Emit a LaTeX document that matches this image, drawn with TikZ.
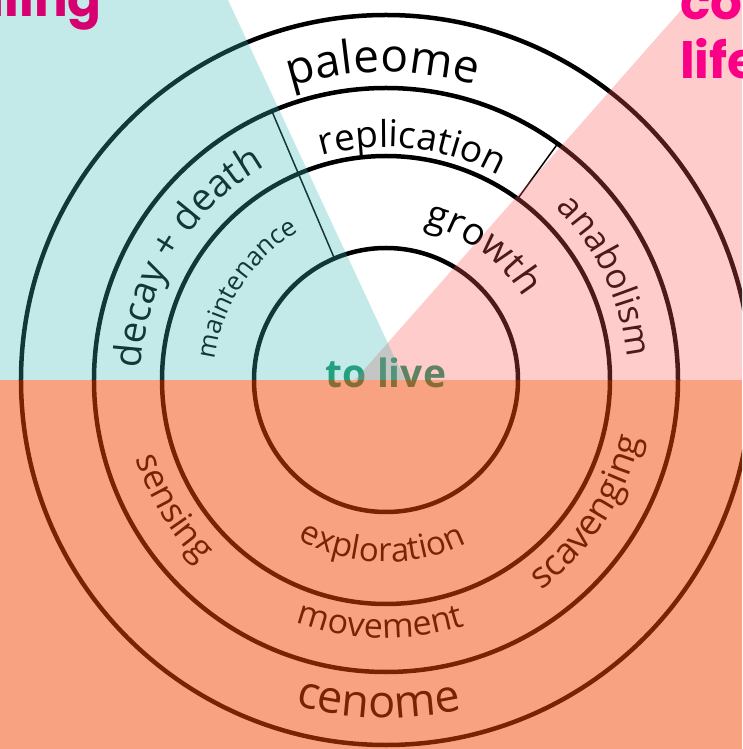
\documentclass[tikz,border=0pt]{standalone}
\usepackage{fontspec}
\setmainfont{Open Sans}
\newfontfamily\headfont{Poppins}
\usetikzlibrary{decorations.text}

\definecolor{tealwash}{RGB}{60,185,185}
\definecolor{pinkwash}{RGB}{255,88,88}
\definecolor{salmonwash}{RGB}{245,70,5}
\definecolor{livegreen}{RGB}{25,150,100}
\definecolor{headpink}{RGB}{214,0,112}
\definecolor{lifepink}{RGB}{250,0,135}

\tikzset{
    ring/.style={draw=black, line width=4.5pt},
    divider/.style={draw=black, line width=1.5pt},
    wash/.style={fill opacity=#1},
    ringtext/.style={decorate, decoration={text along path, text align=center, text={#1}}},
    headline/.style={font=\headfont\bfseries\fontsize{50}{50}\selectfont, inner sep=0pt}
}

\begin{document}
\begin{tikzpicture}[x=1pt, y=1pt]
    % Frame of the picture (centre of the rings at the origin)
    \useasboundingbox (-386,-369) rectangle (356,380);
    \clip (-386,-369) rectangle (356,380);
    \fill[white] (-386,-369) rectangle (356,380);

    % Radii of the four rings
    \def\rA{132pt}
    \def\rB{224pt}
    \def\rC{292pt}
    \def\rD{365pt}

    % Rings
    \draw[ring] (0,0) circle[radius=\rA];
    \draw[ring] (0,0) circle[radius=\rB];
    \draw[ring] (0,0) circle[radius=\rC];
    \draw[ring] (0,0) circle[radius=\rD];

    % Thin dividers between the segments
    \draw[divider] (113:\rA) -- (113:\rC);
    \draw[divider] (54:\rB) -- (54:\rC);

    % Upper labels (clockwise, tops outward)
    \path[ringtext={|\fontsize{46}{46}\selectfont|paleome}] (135.6:308pt) arc[start angle=135.6, end angle=45.6, radius=308pt];
    \path[ringtext={|\fontsize{37}{37}\selectfont|replication}] (128.6:233pt) arc[start angle=128.6, end angle=38.6, radius=233pt];
    \path[ringtext={|\fontsize{38}{38}\selectfont|growth}] (98.5:160pt) arc[start angle=98.5, end angle=8.5, radius=160pt];
    \path[ringtext={|\fontsize{38}{38}\selectfont|decay + death}] (193.4:245pt) arc[start angle=193.4, end angle=103.4, radius=245pt];
    \path[ringtext={|\fontsize{26}{26}\selectfont|maintenance}] (191.8:172pt) arc[start angle=191.8, end angle=101.8, radius=172pt];
    \path[ringtext={|\fontsize{35}{35}\selectfont|anabolism}] (70.4:242pt) arc[start angle=70.4, end angle=-19.6, radius=242pt];

    % Lower labels (counter-clockwise, tops inward)
    \path[ringtext={|\fontsize{35}{35}\selectfont|sensing}] (166:262pt) arc[start angle=166, end angle=256, radius=262pt];
    \path[ringtext={|\fontsize{33}{33}\selectfont|exploration}] (223.7:182pt) arc[start angle=223.7, end angle=313.7, radius=182pt];
    \path[ringtext={|\fontsize{34}{34}\selectfont|movement}] (223.7:258pt) arc[start angle=223.7, end angle=313.7, radius=258pt];
    \path[ringtext={|\fontsize{45}{45}\selectfont|cenome}] (223.7:338pt) arc[start angle=223.7, end angle=313.7, radius=338pt];
    \path[ringtext={|\fontsize{36}{36}\selectfont|scavenging}] (281.8:261pt) arc[start angle=281.8, end angle=371.8, radius=261pt];

    % Centre
    \node[text=livegreen, font=\bfseries\fontsize{39}{39}\selectfont, inner sep=0pt] (live) at (0,7) {to live};

    % Coloured washes over the rings
    \fill[pinkwash, wash=0.3] (304,380) -- (356,380) -- (356,0) -- (-31,0) -- cycle;
    \fill[tealwash, wash=0.3] (-386,380) -- (-158,380) -- (19,0) -- (-386,0) -- cycle;
    \fill[salmonwash, wash=0.5] (-386,0) rectangle (356,-369);

    % Headings cut by the frame
    \node[headline, text=headpink, anchor=base east] (scaling) at (-284,363) {aling};
    \node[headline, text=lifepink, anchor=base west] (co) at (294,360) {co};
    \node[headline, text=lifepink, anchor=base west] (life) at (294,301) {life};
\end{tikzpicture}
\end{document}
